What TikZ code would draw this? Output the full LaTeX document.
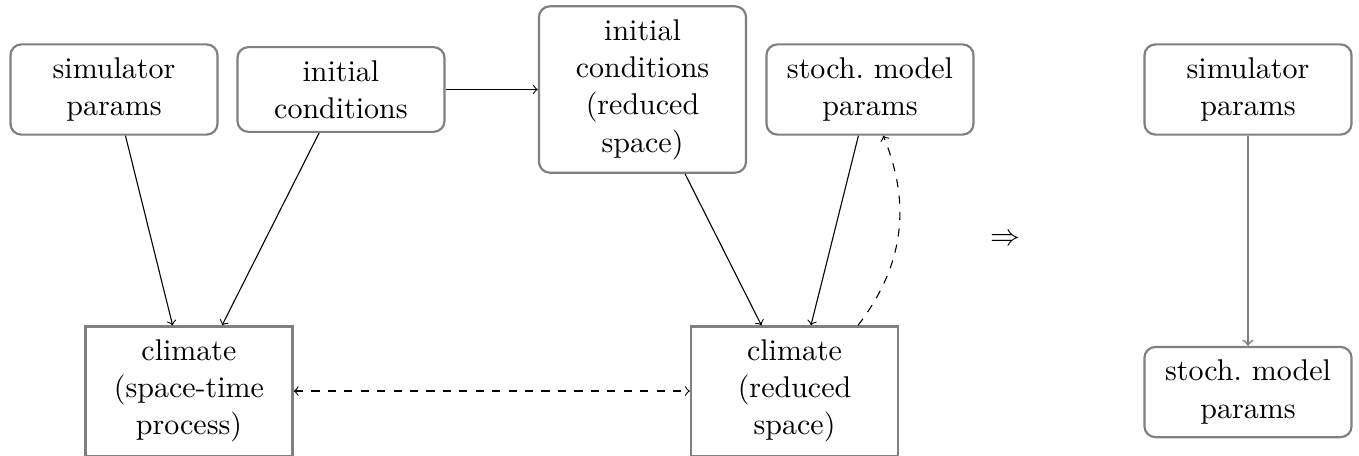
\documentclass[11pt,tikz,border=0pt]{standalone}
\usetikzlibrary{positioning}

\begin{document}
\begin{tikzpicture}[
  param/.style={draw=gray, thick, rounded corners, text width=2.4cm, align=center, inner ysep=4.8pt},
  latent/.style={draw=gray, thick, text width=2.4cm, align=center, inner ysep=4.8pt}]
\useasboundingbox (0,0) rectangle (17.433,-5.837);

\node[param] (sim) at (1.462,-1.148) {simulator params};
\node[param] (init) at (4.374,-1.148) {initial conditions};
\node[param] (initred) at (8.242,-1.148) {initial conditions (reduced space)};
\node[param] (stoch) at (11.160,-1.148) {stoch.\ model params};
\node[latent] (clim) at (2.424,-5.016) {climate (space-time process)};
\node[latent] (climred) at (10.192,-5.016) {climate (reduced space)};

\node (implies) at (12.892,-3.079) {$\Rightarrow$};

\node[param] (simR) at (16.009,-1.148) {simulator params};
\node[param] (stochR) at (16.009,-5.029) {stoch.\ model params};

\draw[->] (sim) -- (clim);
\draw[->] (init) -- (clim);
\draw[->] (init) -- (initred);
\draw[->] (initred) -- (climred);
\draw[->] (stoch) -- (climred);
\draw[->, dashed] (climred) to[bend right=30] (stoch);
\draw[<->, dashed] (clim) -- (climred);
\draw[->, gray, semithick] (simR) -- (stochR);
\end{tikzpicture}
\end{document}
